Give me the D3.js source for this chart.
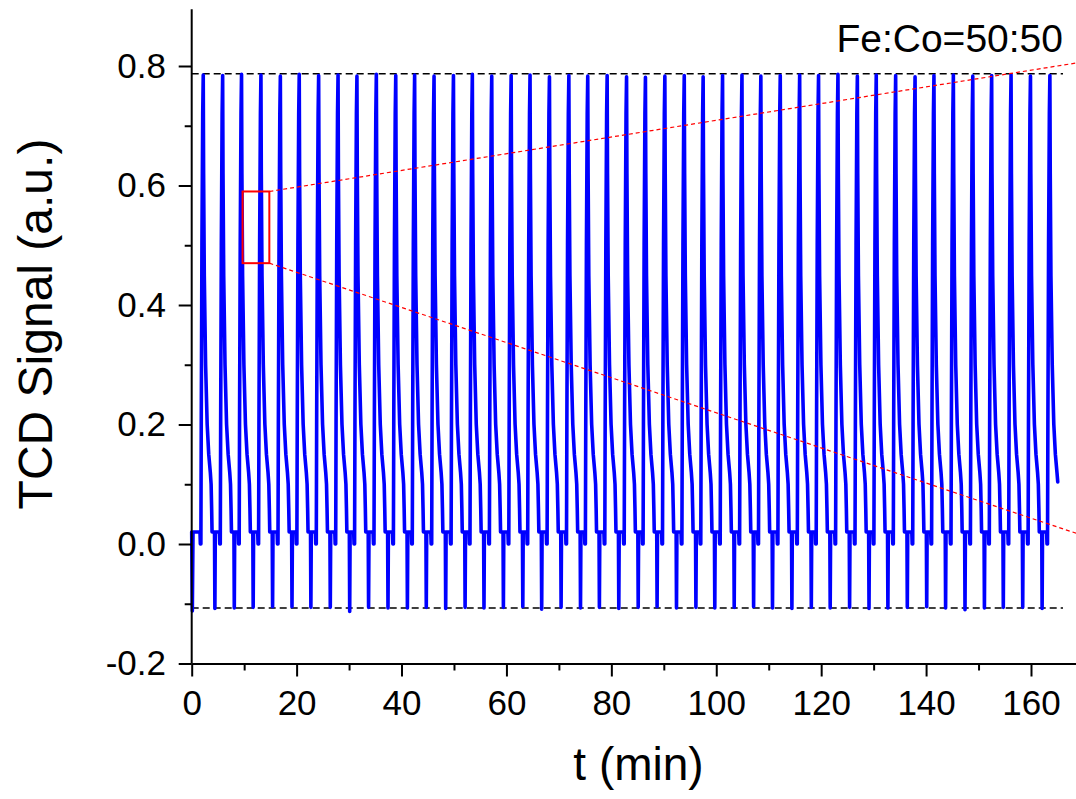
<!DOCTYPE html>
<html>
<head>
<meta charset="utf-8">
<script src="https://cdn.jsdelivr.net/npm/d3@7"></script>
<style>
  html, body { margin: 0; padding: 0; background: #fff; }
  svg { display: block; font-family: "Liberation Sans", Arial, sans-serif; }
</style>
</head>
<body>
<svg id="chart" width="1076" height="799"></svg>
<script>
// ---------------- data ----------------
// time (min) of each pulse maximum
const peakTimes = [2.2, 5.9, 9.5, 13.2, 16.9, 20.5, 24.2, 27.9, 31.5, 35.2,
  38.9, 42.5, 46.2, 49.9, 53.5, 57.2, 60.9, 64.5, 68.2, 71.9,
  75.5, 79.2, 82.9, 86.5, 90.2, 93.9, 97.5, 101.2, 104.9, 108.5,
  112.2, 115.9, 119.5, 123.2, 126.9, 130.5, 134.2, 137.9, 141.5, 145.2,
  148.9, 152.5, 156.2, 159.9, 163.6];
// TCD signal at each pulse maximum
const peakValues = [0.785, 0.784, 0.786, 0.785, 0.783, 0.786, 0.784, 0.785, 0.783, 0.786,
  0.784, 0.785, 0.783, 0.784, 0.786, 0.783, 0.784, 0.785, 0.782, 0.784,
  0.783, 0.784, 0.782, 0.781, 0.783, 0.784, 0.782, 0.784, 0.785, 0.783,
  0.784, 0.785, 0.784, 0.786, 0.783, 0.785, 0.784, 0.782, 0.784, 0.785,
  0.783, 0.784, 0.785, 0.783, 0.784];
// negative spike after each pulse (the last pulse is cut before its spike)
const troughValues = [-0.108, -0.107, -0.106, -0.105, -0.105, -0.106, -0.106, -0.113, -0.106, -0.107,
  -0.107, -0.106, -0.108, -0.106, -0.107, -0.106, -0.105, -0.109, -0.106, -0.107,
  -0.106, -0.108, -0.106, -0.105, -0.107, -0.106, -0.107, -0.106, -0.105, -0.107,
  -0.108, -0.106, -0.107, -0.106, -0.108, -0.107, -0.106, -0.105, -0.107, -0.110,
  -0.107, -0.106, -0.106, -0.108];
// start of the record
const startTimes = [0.0, 0.12, 0.25];
const startValues = [0.02, -0.112, 0.02];
// end of the record
const endTime = 165.1;
const endValue = 0.104;
// shape of one pulse: offsets (min) from the maximum and signal
// value; "P" = pulse maximum, "T" = negative spike
const profileOffsets = [-0.62, -0.55, -0.45, -0.38, -0.25, -0.1, 0, 0.07, 0.2, 0.45, 0.75, 1.05, 1.35, 1.5, 1.6, 1.68, 2.15, 2.22, 2.3];
const profileValues  = [0.02, 0.0, 0.0, 0.2, 0.5, 0.72, "P", 0.62, 0.45, 0.3, 0.2, 0.15, 0.12, 0.1, 0.06, 0.02, 0.02, "T", 0.02];

// reference lines
const upperLevel = 0.787, lowerLevel = -0.107, levelStart = 0, levelEnd = 166.1;
// zoom box and its guide lines
const boxT = [9.7, 14.8], boxV = [0.47, 0.59];
const guideEndT = 168.6, guideUpperEnd = 0.805, guideLowerEnd = 0.018;

const label = "Fe:Co=50:50";
const xTicks = [0, 20, 40, 60, 80, 100, 120, 140, 160];
const xMinorTicks = [10, 30, 50, 70, 90, 110, 130, 150, 170];
const yTicks = [-0.2, 0.0, 0.2, 0.4, 0.6, 0.8];
const yMinorTicks = [-0.1, 0.1, 0.3, 0.5, 0.7];

// ---------------- build series ----------------
const series = [];
startTimes.forEach((t, i) => series.push([t, startValues[i]]));
peakTimes.forEach((pt, k) => {
  for (let j = 0; j < profileOffsets.length; j++) {
    const t = pt + profileOffsets[j];
    let v = profileValues[j];
    if (v === "P") v = peakValues[k];
    if (v === "T") { if (k >= troughValues.length) break; v = troughValues[k]; }
    if (t >= endTime) break;
    series.push([t, v]);
  }
});
series.push([endTime, endValue]);

// ---------------- drawing ----------------
const svg = d3.select("#chart");
const x = d3.scaleLinear().domain([0, 170]).range([191.7, 191.7 + 170 * 5.2456]);
const y = d3.scaleLinear().domain([-0.2, 0.8]).range([663.5, 66]);
const yTop = 0.895;

// black dashed levels
[upperLevel, lowerLevel].forEach(v => {
  svg.append("line")
    .attr("x1", x(levelStart)).attr("x2", x(levelEnd))
    .attr("y1", y(v)).attr("y2", y(v))
    .attr("stroke", "#000").attr("stroke-width", 1.5)
    .attr("stroke-dasharray", "7,4");
});

// data line
svg.append("path")
  .datum(series)
  .attr("fill", "none")
  .attr("stroke", "#0000ff")
  .attr("stroke-width", 3.6)
  .attr("stroke-linejoin", "round")
  .attr("stroke-linecap", "round")
  .attr("d", d3.line().x(d => x(d[0])).y(d => y(d[1])));

// red zoom box
svg.append("rect")
  .attr("x", x(boxT[0])).attr("y", y(boxV[1]))
  .attr("width", x(boxT[1]) - x(boxT[0]))
  .attr("height", y(boxV[0]) - y(boxV[1]))
  .attr("fill", "none").attr("stroke", "#ff0000").attr("stroke-width", 2);

// red dashed guide lines
[[boxV[1], guideUpperEnd], [boxV[0], guideLowerEnd]].forEach(([v0, v1]) => {
  svg.append("line")
    .attr("x1", x(boxT[1])).attr("y1", y(v0))
    .attr("x2", x(guideEndT)).attr("y2", y(v1))
    .attr("stroke", "#ff0000").attr("stroke-width", 1.2)
    .attr("stroke-dasharray", "4,3");
});

// axes
const fmt = d => d3.format(".1f")(d).replace("\u2212", "-");
const gx = svg.append("g").attr("transform", `translate(0,${y(-0.2)})`);
gx.call(d3.axisBottom(x).tickValues(xTicks).tickSize(13).tickSizeOuter(0).tickPadding(13.5));
const gxm = svg.append("g").attr("transform", `translate(0,${y(-0.2)})`);
gxm.call(d3.axisBottom(x).tickValues(xMinorTicks).tickSize(7).tickSizeOuter(0).tickFormat(""));
gxm.select(".domain").remove();

const gy = svg.append("g").attr("transform", `translate(${x(0)},0)`);
gy.call(d3.axisLeft(y).tickValues(yTicks).tickSize(13).tickSizeOuter(0).tickPadding(12.7).tickFormat(fmt));
gy.select(".domain").attr("d", `M0,${y(-0.2)}V${y(yTop)}`);
const gym = svg.append("g").attr("transform", `translate(${x(0)},0)`);
gym.call(d3.axisLeft(y).tickValues(yMinorTicks).tickSize(7).tickSizeOuter(0).tickFormat(""));
gym.select(".domain").remove();

svg.selectAll(".domain").attr("stroke", "#000").attr("stroke-width", 2);
svg.selectAll(".tick line").attr("stroke", "#000").attr("stroke-width", 2);
svg.selectAll(".tick text")
  .attr("fill", "#000")
  .style("font-family", '"Liberation Sans", Arial, sans-serif')
  .style("font-size", "35px");

// axis titles
svg.append("text")
  .attr("transform", `translate(52,324) rotate(-90)`)
  .attr("text-anchor", "middle")
  .style("font-size", "48px")
  .text("TCD Signal (a.u.)");
svg.append("text")
  .attr("x", 638.5).attr("y", 780)
  .attr("text-anchor", "middle")
  .style("font-size", "46px")
  .text("t (min)");
svg.append("text")
  .attr("x", 1063).attr("y", 52)
  .attr("text-anchor", "end")
  .style("font-size", "39px")
  .text(label);
</script>
</body>
</html>
